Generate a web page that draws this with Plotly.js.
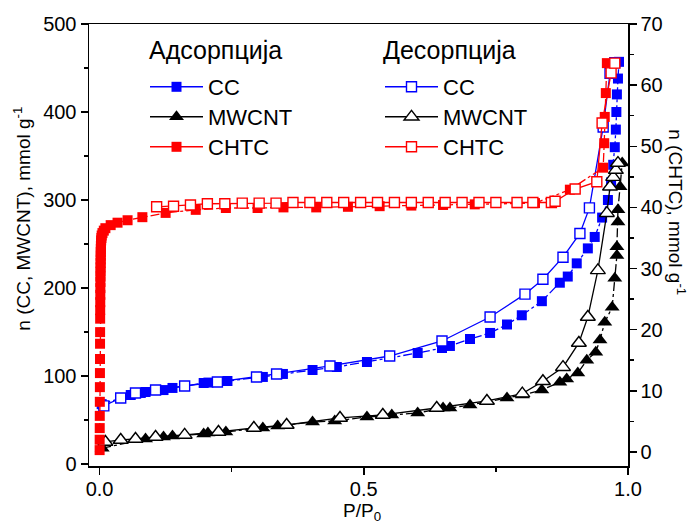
<!DOCTYPE html>
<html>
<head>
<meta charset="utf-8">
<script src="https://cdn.plot.ly/plotly-3.0.1.min.js"></script>
<style>html,body{margin:0;padding:0;background:#fff;}#chart{width:693px;height:524px;}</style>
</head>
<body>
<div id="chart"></div>
<script>
// ---- data ----
const ccAdsX = [0.004,0.059,0.078,0.087,0.121,0.138,0.197,0.206,0.242,0.309,0.347,0.403,0.449,0.506,0.602,0.648,0.663,0.701,0.739,0.771,0.799,0.837,0.871,0.886,0.903,0.924,0.937,0.951,0.962,0.968,0.972,0.975,0.977,0.978,0.979,0.981,0.983];
const ccAdsY = [68,78.4,80.7,81.8,84,86.4,92,92.5,94.3,98.9,102.3,106.8,110.2,115.9,126.1,131.8,134.1,142,148.9,158.5,169,185,206,213,228,245,258,280,300,320,340,360,380,400,420,438,457];

const ccDesX = [0.008,0.040,0.068,0.106,0.161,0.223,0.297,0.335,0.436,0.549,0.648,0.739,0.805,0.839,0.877,0.909,0.927,0.953,0.966,0.975];
const ccDesY = [66,75,80.7,84,88.6,93.2,98.9,102.3,111.4,122.7,139.8,167,193,210,235,262,291,383,444,456];

const mwAdsX = [0.005,0.087,0.121,0.138,0.197,0.205,0.239,0.309,0.337,0.403,0.445,0.506,0.553,0.602,0.650,0.663,0.701,0.771,0.800,0.837,0.871,0.884,0.905,0.922,0.939,0.947,0.956,0.970,0.975,0.979,0.979,0.981,0.981,0.985,0.989];
const mwAdsY = [18,28.4,30.7,31.8,34.1,35.2,36.4,40.9,43.2,47.7,48.9,53.4,55.7,58,63.6,63.6,67,75,78.4,84,93,96.6,103.4,118,127,141,161,178,211,237,247,275,289,315,342];

const mwDesX = [0.011,0.040,0.068,0.106,0.161,0.225,0.292,0.354,0.455,0.536,0.638,0.733,0.800,0.839,0.877,0.907,0.924,0.943,0.960,0.966,0.972,0.977,0.981];
const mwDesY = [25,27.3,28.4,30.7,33,36.4,40.9,44.3,52.3,55.7,63.6,71.6,80,94,110,137.5,167,220,285,315,326,334,342];

const chAdsX = [0.0001,0.0002,0.0003,0.0004,0.0005,0.0006,0.0007,0.0008,0.0009,0.001,0.0011,0.0012,0.0013,0.0014,0.0015,0.0016,0.0017,0.0018,0.0019,0.002,0.0021,0.0022,0.0023,0.0024,0.0025,0.0027,0.003,0.0035,0.004,0.0055,0.008,0.011,0.021,0.034,0.053,0.081,0.125,0.182,0.239,0.299,0.348,0.41,0.47,0.53,0.59,0.65,0.71,0.79,0.824,0.89,0.953,0.955,0.956,0.958,0.96];
const chAdsY = [0.3,2.0,3.9,5.9,8.2,10.6,12.9,15.2,17.7,19.6,21.8,23.2,24.5,25.7,26.8,27.8,28.7,29.5,30.2,30.9,31.5,32.1,32.7,33.2,33.7,34.2,34.6,35.0,35.4,35.8,36.2,36.6,37.1,37.5,37.9,38.4,39.1,39.6,39.9,39.9,40.0,40.0,40.1,40.2,40.3,40.4,40.5,40.7,40.7,42.9,46.5,50.5,54.8,58.7,63.6];

const chDesX = [0.108,0.140,0.172,0.204,0.237,0.270,0.302,0.334,0.366,0.398,0.430,0.462,0.494,0.526,0.558,0.590,0.622,0.654,0.686,0.718,0.750,0.790,0.820,0.855,0.862,0.900,0.941,0.951,0.968,0.975];
const chDesY = [40.1,40.2,40.4,40.6,40.6,40.7,40.7,40.7,40.8,40.8,40.8,40.8,40.8,40.8,40.8,40.8,40.8,40.8,40.8,40.8,40.8,40.8,40.8,40.8,41.0,43.0,44.2,53.8,62.0,63.6];

const seriesNames = ['CC','MWCNT','CHTC'];
const legendTitles = ['Адсорпција','Десорпција'];
const xTitle = 'P/P<sub>0</sub>';
const yTitle = 'n (CC, MWCNT), mmol g<sup>-1</sup>';
const y2Title = 'n (CHTC), mmol g<sup>-1</sup>';

// ---- styles ----
const FONT = 'Liberation Sans, Arial, sans-serif';
const COLORS = ['#0000ff', '#000000', '#ff0000'];
const SYMBOLS = ['square', 'triangle-up', 'square'];
const SIZES = [10, 13, 10];
const AXES = ['y', 'y', 'y2'];

function ads(x, y, i) {
  return {x:x, y:y, name:seriesNames[i], yaxis:AXES[i], showlegend:false, mode:'lines+markers', type:'scatter',
    line:{color:COLORS[i], width:1.3, dash:'dashdot'},
    marker:{symbol:SYMBOLS[i], size:SIZES[i], color:COLORS[i], line:{width:0}}};
}
function des(x, y, i) {
  return {x:x, y:y, name:seriesNames[i], yaxis:AXES[i], showlegend:false, mode:'lines+markers', type:'scatter',
    line:{color:COLORS[i], width:1.3},
    marker:{symbol:SYMBOLS[i], size:SIZES[i], color:'white', line:{color:COLORS[i], width:1.4}}};
}
// legend-only entries (solid sample lines, as in the reference legend), one legend box each
function legAds(i) {
  return {x:[null], y:[null], name:seriesNames[i], legend:'legend' + (i === 0 ? '' : (i + 1)), mode:'lines+markers', type:'scatter',
    line:{color:COLORS[i], width:1.5},
    marker:{symbol:SYMBOLS[i], size:SIZES[i], color:COLORS[i], line:{width:0}}};
}
function legDes(i) {
  return {x:[null], y:[null], name:seriesNames[i], legend:'legend' + (i + 4), mode:'lines+markers', type:'scatter',
    line:{color:COLORS[i], width:1.5},
    marker:{symbol:SYMBOLS[i], size:SIZES[i], color:'white', line:{color:COLORS[i], width:1.4}}};
}

const traces = [
  ads(ccAdsX, ccAdsY, 0),
  ads(mwAdsX, mwAdsY, 1),
  ads(chAdsX, chAdsY, 2),
  des(ccDesX, ccDesY, 0),
  des(mwDesX, mwDesY, 1),
  des(chDesX, chDesY, 2),
  legAds(0), legAds(1), legAds(2),
  legDes(0), legDes(1), legDes(2)
];

const axisCommon = {showline:true, linecolor:'#000', linewidth:1.5, ticks:'outside', ticklen:7, tickwidth:1.5,
  tickcolor:'#000', showgrid:false, zeroline:false, tickfont:{family:FONT, size:20, color:'#000'}};

// plot area in px: x 89..628, y 24..466
const px = v => (v - 89) / 539;
const py = v => (466 - v) / 442;
function legBox(xpx, ypx) {
  return {x:px(xpx), y:py(ypx), xanchor:'left', yanchor:'middle', bgcolor:'rgba(0,0,0,0)', itemwidth:53,
    font:{family:FONT, size:22}, traceorder:'normal'};
}

const layout = {
  width:693, height:524,
  margin:{l:89, r:65, t:24, b:58},
  paper_bgcolor:'#fff', plot_bgcolor:'#fff',
  font:{family:FONT, color:'#000'},
  showlegend:true,
  xaxis:Object.assign({}, axisCommon, {range:[-0.02,1.0], dtick:0.5, tick0:0, tickformat:'.1f', mirror:true,
    ticklabelstandoff:-3,
    minor:{dtick:0.25, ticklen:4, tickwidth:1.5, ticks:'outside', tickcolor:'#000'}}),
  yaxis:Object.assign({}, axisCommon, {range:[-2.3,500], dtick:100, tick0:0,
    minor:{dtick:50, ticklen:4, tickwidth:1.5, ticks:'outside', tickcolor:'#000'}}),
  yaxis2:Object.assign({}, axisCommon, {range:[-2.3,70], dtick:10, tick0:0, overlaying:'y', side:'right',
    minor:{dtick:5, ticklen:4, tickwidth:1.5, ticks:'outside', tickcolor:'#000'}}),
  legend:legBox(145, 87), legend2:legBox(145, 117), legend3:legBox(145, 147),
  legend4:legBox(380, 87), legend5:legBox(380, 117), legend6:legBox(380, 147),
  annotations:[
    {text:legendTitles[0], xref:'paper', yref:'paper', x:px(147), y:py(50), showarrow:false,
     xanchor:'left', yanchor:'middle', font:{family:FONT, size:25, color:'#000'}},
    {text:legendTitles[1], xref:'paper', yref:'paper', x:px(381), y:py(50), showarrow:false,
     xanchor:'left', yanchor:'middle', font:{family:FONT, size:25, color:'#000'}},
    {text:xTitle, xref:'paper', yref:'paper', x:px(362), y:py(512), showarrow:false,
     xanchor:'center', yanchor:'middle', font:{family:FONT, size:19, color:'#000'}},
    {text:yTitle, xref:'paper', yref:'paper', x:-0.124, y:0.56, textangle:-90, showarrow:false,
     xanchor:'center', yanchor:'middle', font:{family:FONT, size:19, color:'#000'}},
    {text:y2Title, xref:'paper', yref:'paper', x:1.092, y:0.575, textangle:90, showarrow:false,
     xanchor:'center', yanchor:'middle', font:{family:FONT, size:19, color:'#000'}}
  ]
};

Plotly.newPlot('chart', traces, layout, {staticPlot:true, displayModeBar:false});
</script>
</body>
</html>
